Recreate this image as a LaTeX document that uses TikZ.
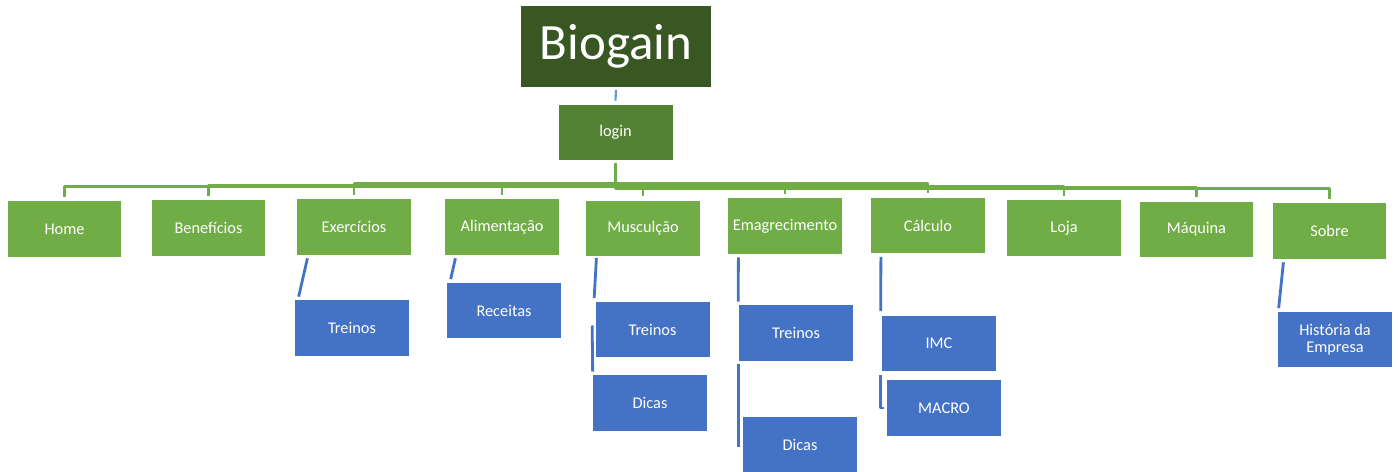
\documentclass[tikz,border=0pt]{standalone}
\usepackage{fontspec}
\setmainfont{Carlito}
\definecolor{titlegreen}{HTML}{385723}
\definecolor{logingreen}{HTML}{548235}
\definecolor{menugreen}{HTML}{70AD47}
\definecolor{subblue}{HTML}{4472C4}
\definecolor{linkblue}{HTML}{5B9BD5}
\begin{document}
\begin{tikzpicture}[x=0.02cm,y=-0.02cm,line join=round]
	\tikzset{every node/.style={text=white, inner sep=0pt, font=\fontsize{9.3}{10}\selectfont},
		titlebox/.style={fill=titlegreen, minimum width=3.8cm, minimum height=1.64cm, font=\fontsize{29}{34}\selectfont},
		loginbox/.style={fill=logingreen, minimum width=2.28cm, minimum height=1.1cm},
		menubox/.style={fill=menugreen, minimum width=2.27cm, minimum height=1.12cm},
		subbox/.style={fill=subblue, minimum width=2.28cm, minimum height=1.12cm, align=center},
		gline/.style={draw=menugreen, line width=1.6pt},
		bline/.style={draw=subblue, line width=1.6pt}}
	\useasboundingbox[fill=white] (0,0) rectangle (1398,472);
	\node[titlebox] (biogain) at (616,46.5) {Biogain};
	\node[loginbox] (login) at (615.5,132.5) {login};
	\foreach \n/\x/\y/\t in {home/64.5/229/Home, bene/208.5/228/Benefícios, exerc/354/227/Exercícios,
		alim/502/227/Alimentação, musc/643/228.5/Musculção, emag/785/226/Emagrecimento,
		calc/928/225.5/Cálculo, loja/1064/228/Loja, maq/1196.5/229.5/Máquina, sobre/1329.5/231/Sobre}
		\node[menubox] (\n) at (\x,\y) {\t};
	\node[subbox] (trex) at (352,328) {Treinos};
	\node[subbox] (rec) at (504,310.5) {Receitas};
	\node[subbox] (trmu) at (652.5,329.5) {Treinos};
	\node[subbox] (dimu) at (650,403) {Dicas};
	\node[subbox] (trem) at (796,333) {Treinos};
	\node[subbox] (diem) at (800,445) {Dicas};
	\node[subbox] (imc) at (939,343.5) {IMC};
	\node[subbox] (macro) at (944,408) {MACRO};
	\node[subbox] (hist) at (1335,339.5) {História da\\Empresa};
	% ligacoes
	\draw[linkblue, line width=1.2pt] ([shift={(0,2)}]biogain.south) -- ([shift={(0,-4)}]login.north);
	\foreach \n/\b in {home/14, bene/14, exerc/15, alim/15, musc/16, emag/14, calc/14, loja/13, maq/14, sobre/14}
		\draw[gline] ([shift={(0,3)}]login.south) |- ([shift={(0,-\b)}]\n.north) -- ([shift={(0,-4)}]\n.north);
	\draw[bline] ([shift={(10.5,3)}]exerc.south west) -- ([shift={(4,-3)}]trex.north west);
	\draw[bline] ([shift={(10.5,3)}]alim.south west) -- ([shift={(4,-3)}]rec.north west);
	\draw[bline] ([shift={(10.5,1)}]musc.south west) -- ([shift={(-1,-3)}]trmu.north west);
	\draw[bline] ([shift={(-3,-4)}]trmu.west) -- ([shift={(0,-3)}]dimu.north west);
	\draw[bline] ([shift={(10.5,3)}]emag.south west) -- ([shift={(-0.5,-3)}]trem.north west);
	\draw[bline] ([shift={(-0.5,3)}]trem.south west) -- ([shift={(-4.5,2)}]diem.west);
	\draw[bline] ([shift={(10,3)}]calc.south west) -- ([shift={(-1,-4)}]imc.north west);
	\draw[bline] ([shift={(-1,3)}]imc.south west) |- ([shift={(-3,0)}]macro.west);
	\draw[bline] ([shift={(11,3)}]sobre.south west) -- ([shift={(1,-3)}]hist.north west);
\end{tikzpicture}
\end{document}
